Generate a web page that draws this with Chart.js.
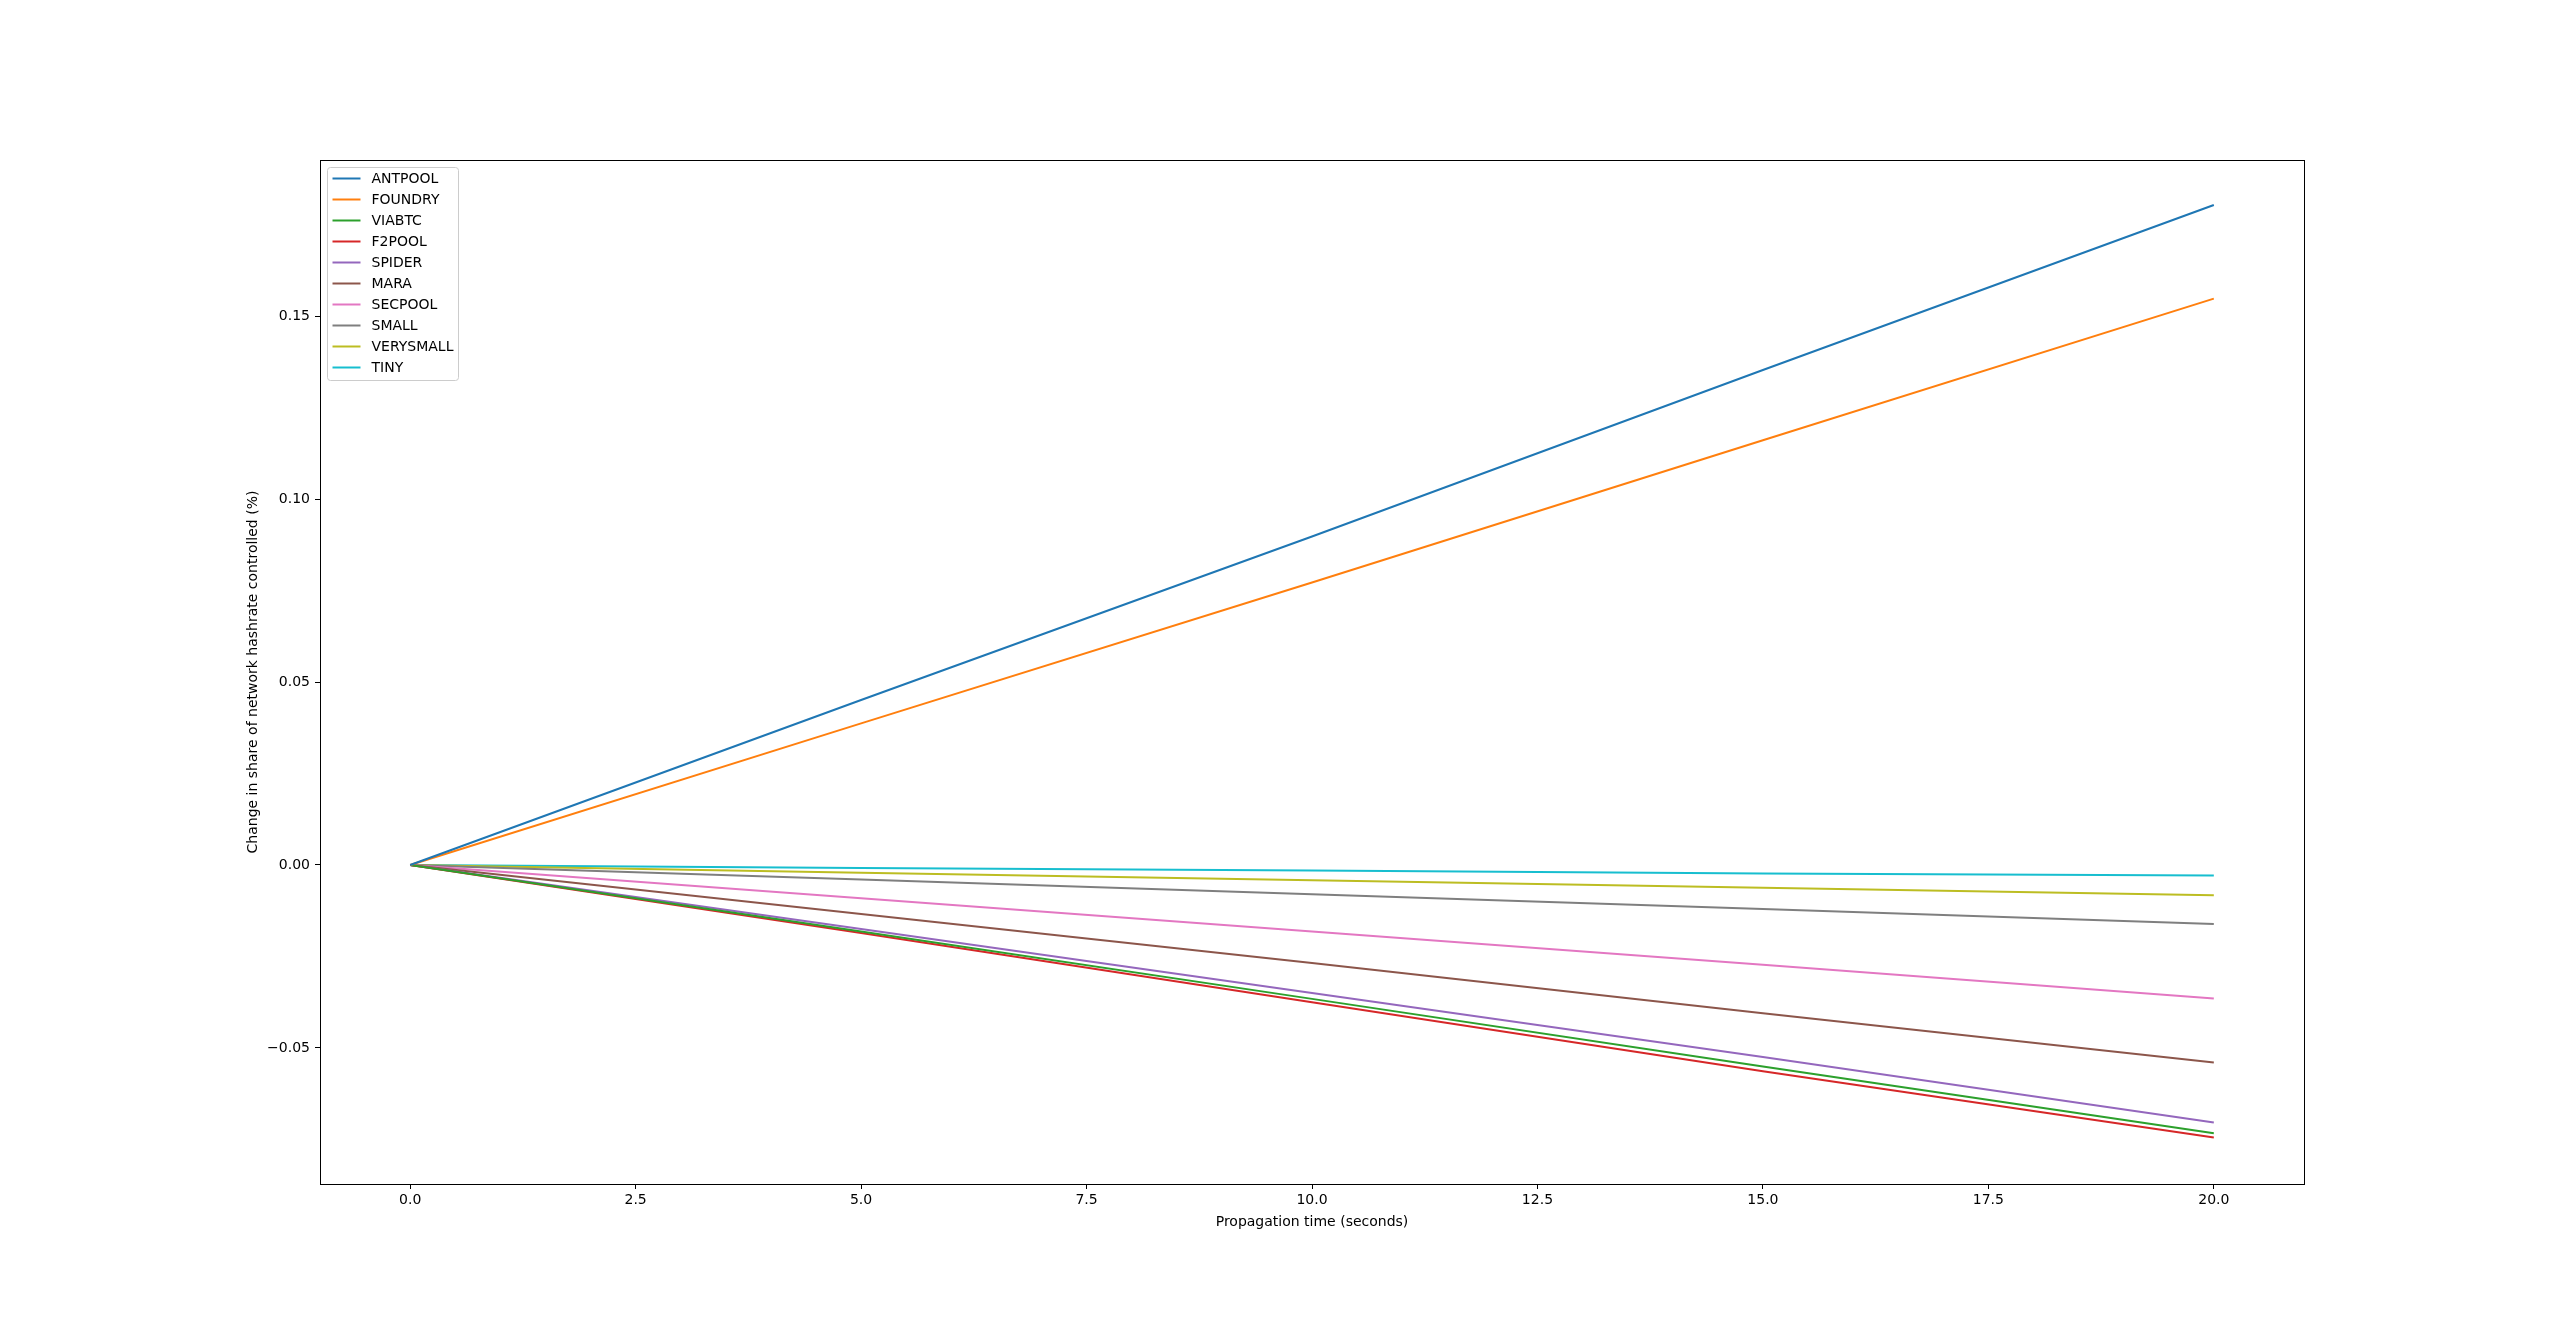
<!DOCTYPE html>
<html>
<head>
<meta charset="utf-8">
<title>Hashrate share change vs propagation time</title>
<script src="https://cdn.jsdelivr.net/npm/chart.js@4.4.1/dist/chart.umd.min.js"></script>
<style>
  html, body { margin: 0; padding: 0; background: #fff; }
  canvas { display: block; }
</style>
</head>
<body>
<canvas id="chartCanvas" width="2560" height="1331"></canvas>
<script>
// Данные
const times = [0, 5, 10, 15, 20];
const antpool   = [0, 0.0451, 0.0898, 0.1353, 0.1804];
const foundry   = [0, 0.0387, 0.0772, 0.1161, 0.1548];
const viabtc    = [0, -0.0182, -0.0366, -0.0551, -0.0733];
const f2pool    = [0, -0.0186, -0.0375, -0.0564, -0.0745];
const spider    = [0, -0.0175, -0.0350, -0.0525, -0.0704];
const mara      = [0, -0.0134, -0.0268, -0.0405, -0.0540];
const secpool   = [0, -0.0091, -0.0182, -0.0273, -0.0365];
const small     = [0, -0.0040, -0.0080, -0.0120, -0.0161];
const verysmall = [0, -0.0021, -0.0042, -0.0062, -0.0083];
const tiny      = [0, -0.0008, -0.0015, -0.0023, -0.0029];

const seriesNames = ['ANTPOOL', 'FOUNDRY', 'VIABTC', 'F2POOL', 'SPIDER', 'MARA', 'SECPOOL', 'SMALL', 'VERYSMALL', 'TINY'];
const seriesValues = [antpool, foundry, viabtc, f2pool, spider, mara, secpool, small, verysmall, tiny];
const colors = ['#1f77b4', '#ff7f0e', '#2ca02c', '#d62728', '#9467bd', '#8c564b', '#e377c2', '#7f7f7f', '#bcbd22', '#17becf'];

const xTicks = [0, 2.5, 5, 7.5, 10, 12.5, 15, 17.5, 20];
const yTicks = [-0.05, 0, 0.05, 0.10, 0.15];

const FONT = 'DejaVu Sans';

const datasets = seriesNames.map((name, i) => ({
  label: name,
  data: times.map((t, j) => ({ x: t, y: seriesValues[i][j] })),
  borderColor: colors[i],
  backgroundColor: colors[i],
  borderWidth: 2,
  pointRadius: 0,
  tension: 0,
  fill: false
}));

// рамка осей и легенда в стиле matplotlib
const framePlugin = {
  id: 'frame',
  afterDraw(chart) {
    const ctx = chart.ctx;
    const a = chart.chartArea;
    ctx.save();
    ctx.strokeStyle = '#000';
    ctx.lineWidth = 1;
    ctx.strokeRect(Math.round(a.left) + 0.5, Math.round(a.top) + 0.5,
      Math.round(a.right - a.left), Math.round(a.bottom - a.top));

    // легенда
    const bx = 327.5, by = 167.5, bw = 131, bh = 213, r = 3;
    ctx.beginPath();
    ctx.moveTo(bx + r, by);
    ctx.lineTo(bx + bw - r, by);
    ctx.arcTo(bx + bw, by, bx + bw, by + r, r);
    ctx.lineTo(bx + bw, by + bh - r);
    ctx.arcTo(bx + bw, by + bh, bx + bw - r, by + bh, r);
    ctx.lineTo(bx + r, by + bh);
    ctx.arcTo(bx, by + bh, bx, by + bh - r, r);
    ctx.lineTo(bx, by + r);
    ctx.arcTo(bx, by, bx + r, by, r);
    ctx.closePath();
    ctx.fillStyle = 'rgba(255,255,255,0.8)';
    ctx.fill();
    ctx.strokeStyle = '#cccccc';
    ctx.stroke();

    ctx.font = '14px "' + FONT + '"';
    ctx.textBaseline = 'middle';
    ctx.textAlign = 'left';
    seriesNames.forEach((name, i) => {
      const y = 178.5 + i * 21;
      ctx.beginPath();
      ctx.moveTo(332.5, y);
      ctx.lineTo(360.5, y);
      ctx.strokeStyle = colors[i];
      ctx.lineWidth = 2;
      ctx.stroke();
      ctx.fillStyle = '#000';
      ctx.fillText(name, 371.5, y + 1);
    });
    ctx.restore();
  }
};

const fmtMinus = (s) => s.replace('-', '\u2212');

const ctx = document.getElementById('chartCanvas').getContext('2d');
new Chart(ctx, {
  type: 'line',
  data: { datasets: datasets },
  options: {
    responsive: false,
    animation: false,
    devicePixelRatio: 1,
    layout: { padding: { left: 245, right: 256, top: 160, bottom: 100 } },
    plugins: {
      legend: { display: false },
      tooltip: { enabled: false }
    },
    scales: {
      x: {
        type: 'linear',
        min: -1,
        max: 21,
        afterBuildTicks: (scale) => { scale.ticks = xTicks.map(v => ({ value: v })); },
        afterFit: (scale) => { scale.height = 47; },
        grid: { drawOnChartArea: false, drawTicks: true, tickLength: 5, color: '#000', lineWidth: 1 },
        border: { display: true, color: '#000', width: 1 },
        ticks: {
          color: '#000',
          padding: 3,
          maxRotation: 0,
          font: { family: FONT, size: 14 },
          callback: (v) => fmtMinus(Number(v).toFixed(1))
        },
        title: {
          display: true,
          text: 'Propagation time (seconds)',
          color: '#000',
          padding: 0,
          font: { family: FONT, size: 14 }
        }
      },
      y: {
        type: 'linear',
        min: -0.0872,
        max: 0.1927,
        afterBuildTicks: (scale) => { scale.ticks = yTicks.map(v => ({ value: v })); },
        afterFit: (scale) => { scale.width = 75; },
        grid: { drawOnChartArea: false, drawTicks: true, tickLength: 5, color: '#000', lineWidth: 1 },
        border: { display: true, color: '#000', width: 1 },
        ticks: {
          color: '#000',
          padding: 5,
          font: { family: FONT, size: 14 },
          callback: (v) => fmtMinus(Number(v).toFixed(2))
        },
        title: {
          display: true,
          text: 'Change in share of network hashrate controlled (%)',
          color: '#000',
          padding: 0,
          font: { family: FONT, size: 14 }
        }
      }
    }
  },
  plugins: [framePlugin]
});
</script>
</body>
</html>
